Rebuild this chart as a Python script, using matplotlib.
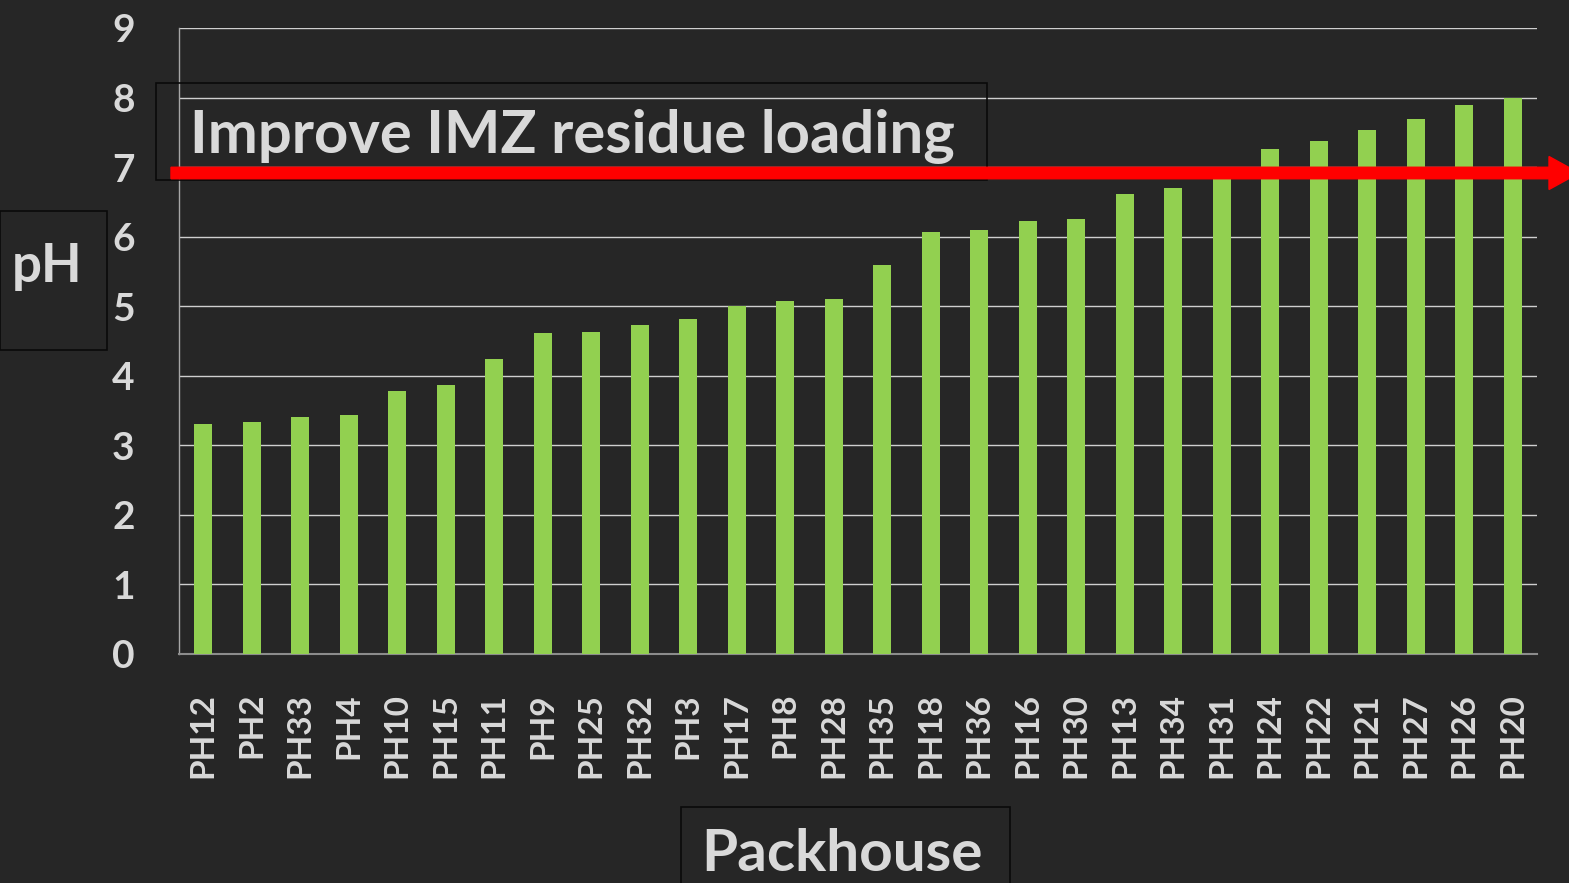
import matplotlib
matplotlib.use('Agg')
import matplotlib.pyplot as plt
from matplotlib.patches import Rectangle, FancyArrow

# Packhouse names and measured pH, sorted low to high
packhouses = ['PH12', 'PH2', 'PH33', 'PH4', 'PH10', 'PH15', 'PH11', 'PH9', 'PH25', 'PH32',
              'PH3', 'PH17', 'PH8', 'PH28', 'PH35', 'PH18', 'PH36', 'PH16', 'PH30', 'PH13',
              'PH34', 'PH31', 'PH24', 'PH22', 'PH21', 'PH27', 'PH26', 'PH20']
ph_values = [3.31, 3.33, 3.41, 3.43, 3.78, 3.87, 4.24, 4.61, 4.63, 4.73,
             4.81, 5.00, 5.08, 5.10, 5.59, 6.07, 6.10, 6.23, 6.25, 6.62,
             6.70, 6.88, 7.26, 7.37, 7.53, 7.69, 7.90, 8.00]
y_ticks = list(range(0, 10))

bg = '#262626'
txt = '#D9D9D9'
green = '#92D050'
font = ['Lato', 'DejaVu Sans']

W, H = 1569, 883
fig = plt.figure(figsize=(W / 100, H / 100), dpi=100)
fig.patch.set_facecolor(bg)

# axes placed to match the original pixel layout
ax = fig.add_axes([179 / W, 1 - 654 / H, (1537 - 179) / W, (654 - 28) / H])
ax.set_facecolor(bg)

x = range(len(packhouses))
ax.bar(x, ph_values, width=0.38, color=green, zorder=3)

ax.set_xlim(-0.5, len(packhouses) - 0.5)
ax.set_ylim(0, 9)
ax.set_yticks(y_ticks)
ax.set_yticklabels([str(v) for v in y_ticks], fontsize=28, fontweight='bold',
                   color=txt, family=font)
ax.set_xticks(list(x))
ax.set_xticklabels(packhouses, rotation=90, fontsize=24, fontweight='bold',
                   color=txt, family=font)
ax.tick_params(axis='y', length=0, pad=32)
ax.tick_params(axis='x', length=0, pad=28)

ax.grid(axis='y', color='#CFCFCF', linewidth=1.0, zorder=0)
for side in ['top', 'right']:
    ax.spines[side].set_visible(False)
ax.spines['left'].set_color('#A6A6A6')
ax.spines['left'].set_linewidth(1.0)
ax.spines['bottom'].set_color('#8C8C8C')
ax.spines['bottom'].set_linewidth(1.5)

# boxes around the labels (figure pixel coords, y from bottom)
def box(x0, y0, x1, y1):
    r = Rectangle((x0, H - y1), x1 - x0, y1 - y0, transform=None, fill=False,
                  edgecolor='#0A0A0A', linewidth=1.2, zorder=5)
    fig.patches.append(r)

box(0, 211, 107, 350)
box(681, 807, 1010, 895)
box(156, 83, 987, 180)

fig.text(47 / W, 1 - 282 / H, 'pH', ha='center', va='baseline', fontsize=38,
         fontweight='bold', color=txt, family=font)
fig.text(842 / W, 1 - 871 / H, 'Packhouse', ha='center', va='baseline', fontsize=42,
         fontweight='bold', color=txt, family=font)
fig.text(190 / W, 1 - 153 / H, 'Improve IMZ residue loading', ha='left', va='baseline',
         fontsize=43, fontweight='bold', color=txt, family=font, zorder=6)

# red target arrow
arrow = FancyArrow(171, H - 173, 1378, 0, width=11.5, head_width=33, head_length=30,
                   length_includes_head=False, transform=None, color='#FF0000', zorder=7)
fig.patches.append(arrow)

plt.savefig('out.png', dpi=100, facecolor=bg)
